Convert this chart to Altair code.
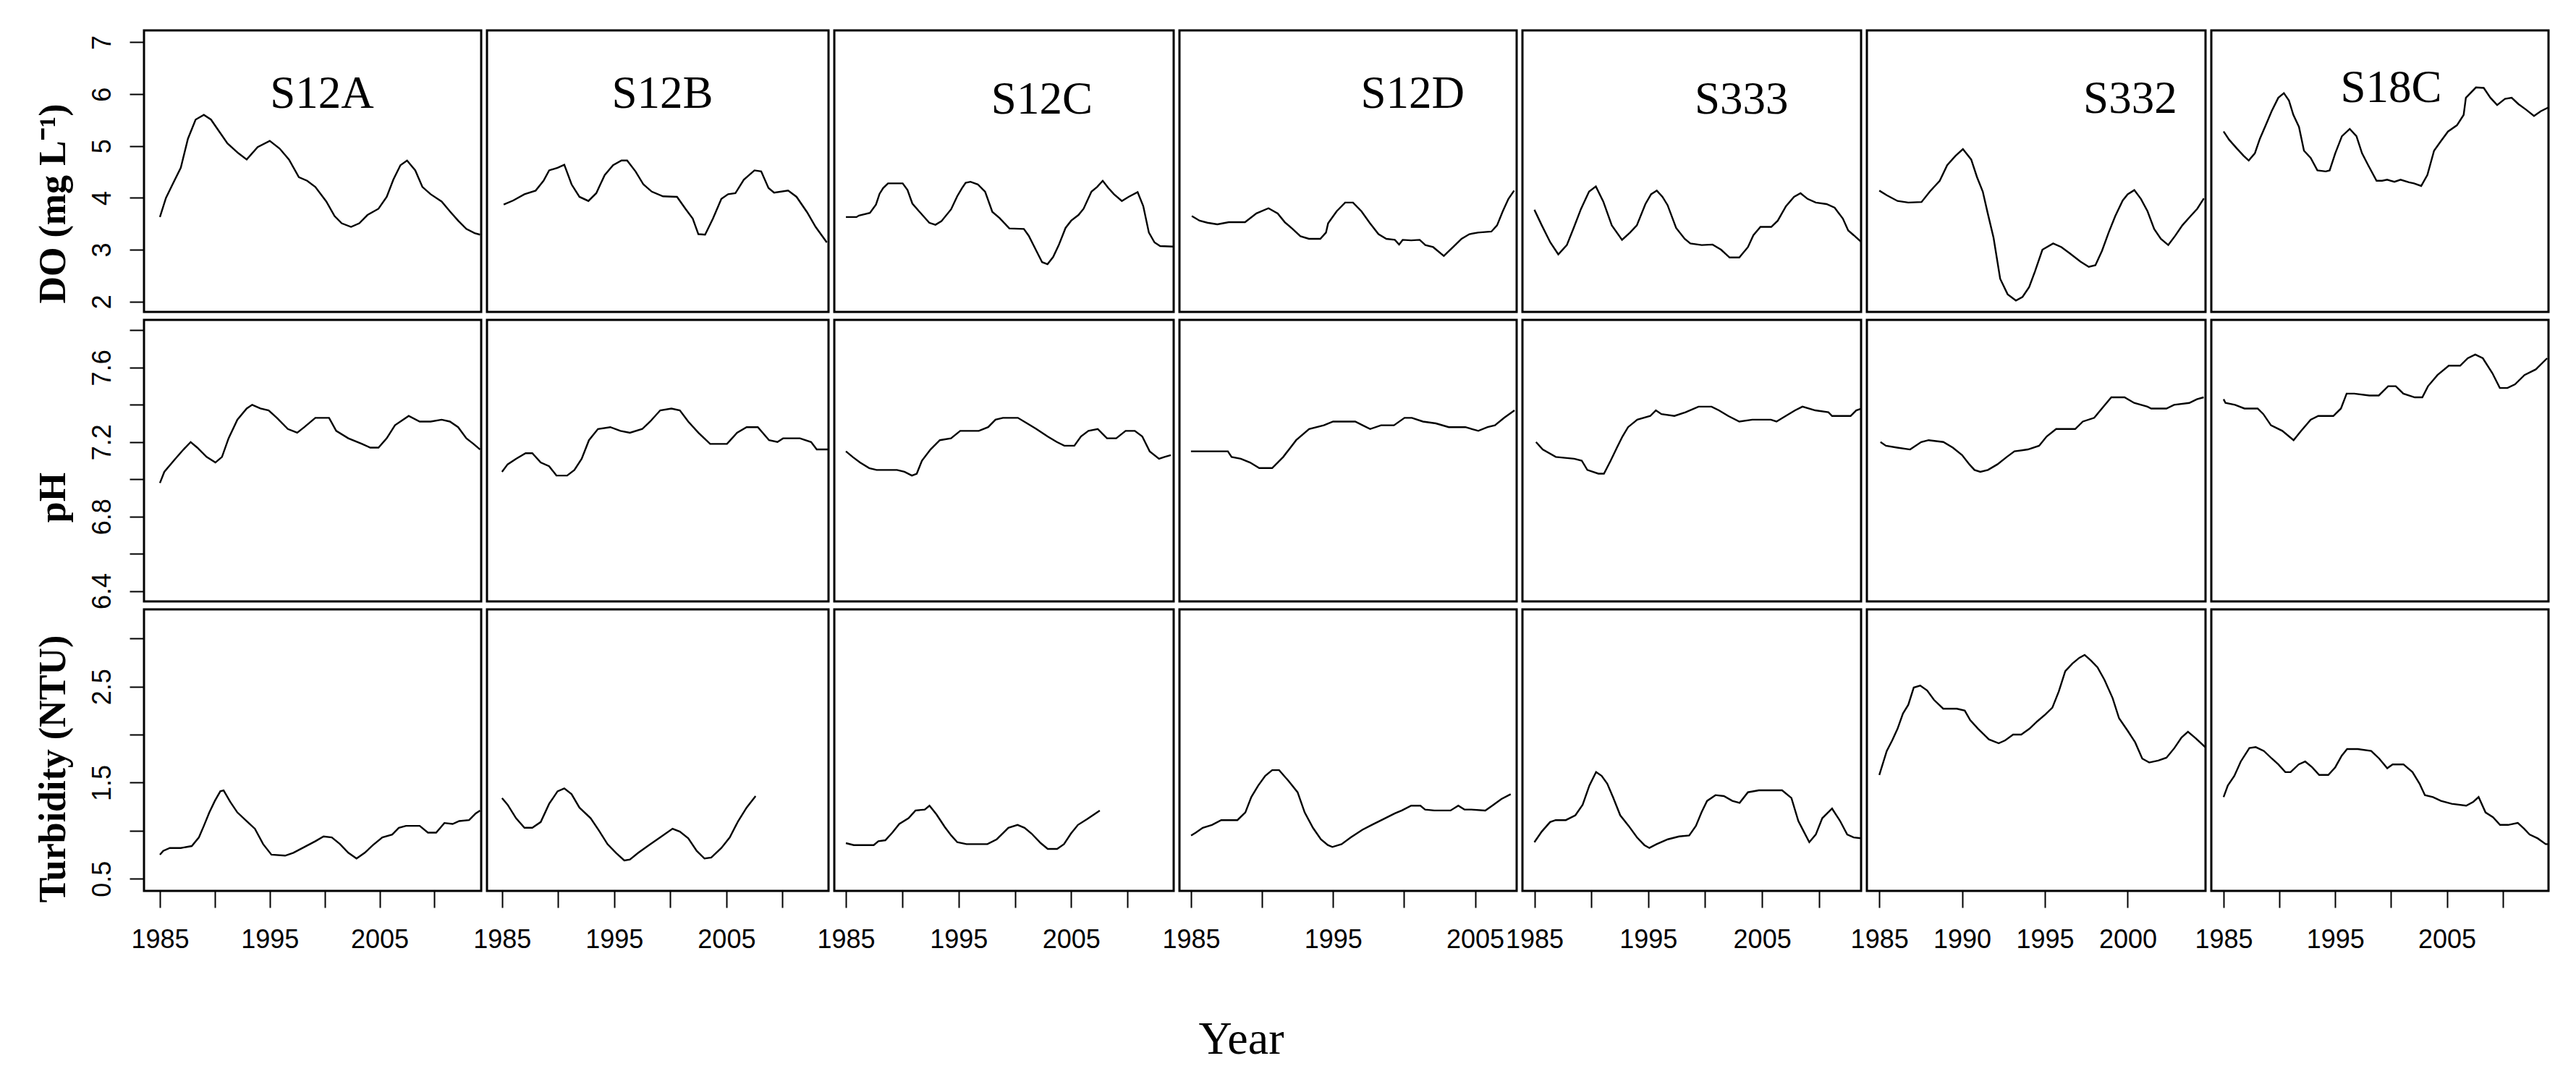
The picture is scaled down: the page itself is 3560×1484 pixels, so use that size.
import altair as alt
import pandas as pd

STATIONS = ["S12A", "S12B", "S12C", "S12D", "S333", "S332", "S18C"]
PARAMS = ["DO", "pH", "Turbidity"]

# ---------------- DO (mg/L) ----------------
S12A_DO = [(1985.0,3.63),(1985.55,4.0),(1986.15,4.26),(1986.9,4.58),(1987.55,5.14),(1988.25,5.51),(1989.0,5.6),(1989.65,5.51),(1990.4,5.28),(1991.15,5.05),(1992.15,4.86),(1992.9,4.74),(1993.9,4.98),(1995.0,5.10),(1995.9,4.95),(1996.75,4.74),(1997.65,4.40),(1998.4,4.33),(1999.15,4.21),(2000.15,3.93),(2000.9,3.65),(2001.55,3.51),(2002.4,3.44),(2003.15,3.51),(2003.9,3.67),(2004.9,3.79),(2005.65,4.02),(2006.25,4.35),(2006.9,4.63),(2007.5,4.72),(2008.25,4.53),(2008.9,4.21),(2009.65,4.07),(2010.65,3.93),(2011.4,3.74),(2012.15,3.56),(2012.9,3.40),(2013.65,3.32),(2014.15,3.29)]
S12B_DO = [(1985.15,3.87),(1986.0,3.95),(1987.0,4.07),(1988.0,4.14),(1988.7,4.33),(1989.2,4.53),(1989.95,4.58),(1990.55,4.64),(1991.2,4.26),(1991.9,4.02),(1992.7,3.94),(1993.4,4.09),(1994.15,4.44),(1994.9,4.63),(1995.65,4.72),(1996.15,4.72),(1996.9,4.51),(1997.6,4.26),(1998.35,4.12),(1999.35,4.03),(2000.6,4.02),(2001.35,3.79),(2002.0,3.60),(2002.5,3.30),(2003.1,3.29),(2003.8,3.60),(2004.55,3.98),(2005.15,4.07),(2005.8,4.09),(2006.55,4.35),(2007.5,4.53),(2008.1,4.51),(2008.75,4.19),(2009.25,4.10),(2010.5,4.14),(2011.25,4.02),(2012.2,3.72),(2012.95,3.44),(2013.95,3.14)]
S12C_DO = [(1985.0,3.63),(1985.94,3.63),(1986.16,3.66),(1987.13,3.71),(1987.67,3.87),(1987.99,4.08),(1988.31,4.19),(1988.74,4.28),(1990.04,4.28),(1990.47,4.15),(1990.9,3.89),(1991.54,3.73),(1992.4,3.52),(1992.95,3.48),(1993.48,3.55),(1994.34,3.78),(1994.88,4.03),(1995.31,4.19),(1995.63,4.29),(1996.06,4.31),(1996.71,4.26),(1997.36,4.12),(1998.0,3.73),(1998.65,3.61),(1999.51,3.41),(2000.8,3.40),(2001.23,3.27),(2001.88,2.99),(2002.42,2.76),(2002.9,2.72),(2003.4,2.86),(2003.9,3.09),(2004.5,3.42),(2005.0,3.56),(2005.65,3.67),(2006.1,3.79),(2006.8,4.12),(2007.3,4.21),(2007.8,4.33),(2008.3,4.19),(2008.8,4.07),(2009.5,3.94),(2010.1,4.02),(2010.9,4.11),(2011.4,3.84),(2011.9,3.33),(2012.4,3.14),(2012.9,3.07),(2014.1,3.06)]
S12D_DO = [(1985.05,3.65),(1985.6,3.56),(1986.15,3.52),(1986.85,3.49),(1987.65,3.53),(1988.8,3.53),(1989.6,3.70),(1990.45,3.80),(1991.1,3.70),(1991.6,3.53),(1992.15,3.40),(1992.7,3.26),(1993.3,3.21),(1994.1,3.21),(1994.5,3.33),(1994.65,3.51),(1995.25,3.74),(1995.85,3.91),(1996.4,3.91),(1997.0,3.74),(1997.6,3.51),(1998.2,3.30),(1998.75,3.21),(1999.35,3.19),(1999.65,3.10),(1999.9,3.19),(2000.5,3.18),(2001.1,3.19),(2001.5,3.09),(2002.05,3.05),(2002.8,2.88),(2003.45,3.05),(2004.05,3.21),(2004.6,3.30),(2005.2,3.33),(2006.15,3.35),(2006.55,3.47),(2006.95,3.74),(2007.35,3.98),(2007.75,4.14)]
S333_DO = [(1985.0,3.77),(1985.65,3.47),(1986.4,3.14),(1987.1,2.91),(1987.85,3.09),(1988.45,3.42),(1989.1,3.79),(1989.8,4.12),(1990.4,4.22),(1991.05,3.93),(1991.8,3.47),(1992.7,3.19),(1993.4,3.33),(1994.0,3.47),(1994.75,3.88),(1995.25,4.07),(1995.75,4.14),(1996.25,4.02),(1996.7,3.86),(1997.45,3.42),(1998.2,3.21),(1998.7,3.12),(1999.7,3.09),(2000.65,3.10),(2001.4,3.00),(2002.15,2.85),(2003.0,2.85),(2003.76,3.05),(2004.24,3.28),(2004.86,3.44),(2005.81,3.44),(2006.38,3.56),(2007.1,3.84),(2007.81,4.02),(2008.38,4.09),(2009.0,3.98),(2009.72,3.91),(2010.67,3.88),(2011.38,3.81),(2012.1,3.60),(2012.57,3.37),(2013.05,3.28),(2013.76,3.14)]
S332_DO = [(1985.0,4.14),(1985.45,4.05),(1986.1,3.94),(1986.75,3.91),(1987.55,3.92),(1988.05,4.12),(1988.65,4.33),(1989.1,4.63),(1989.6,4.81),(1990.05,4.94),(1990.55,4.74),(1990.9,4.40),(1991.25,4.12),(1991.55,3.70),(1991.9,3.23),(1992.3,2.44),(1992.75,2.14),(1993.25,2.02),(1993.65,2.09),(1994.05,2.28),(1994.4,2.58),(1994.85,3.00),(1995.5,3.12),(1996.0,3.05),(1996.5,2.93),(1997.15,2.77),(1997.65,2.67),(1998.05,2.70),(1998.45,2.98),(1998.85,3.33),(1999.25,3.65),(1999.7,3.95),(2000.0,4.07),(2000.4,4.15),(2000.8,3.98),(2001.2,3.74),(2001.6,3.40),(2002.0,3.21),(2002.45,3.09),(2002.85,3.26),(2003.3,3.47),(2003.8,3.65),(2004.2,3.79),(2004.6,3.99)]
S18C_DO = [(1985.0,5.28),(1985.5,5.12),(1986.2,4.95),(1986.8,4.81),(1987.25,4.72),(1987.8,4.86),(1988.25,5.14),(1988.85,5.44),(1989.3,5.67),(1989.9,5.93),(1990.4,6.02),(1990.85,5.88),(1991.25,5.60),(1991.75,5.37),(1992.2,4.91),(1992.8,4.77),(1993.4,4.53),(1994.15,4.51),(1994.5,4.53),(1995.0,4.86),(1995.6,5.19),(1996.3,5.33),(1996.9,5.19),(1997.4,4.86),(1997.95,4.63),(1998.7,4.33),(1999.2,4.33),(1999.65,4.35),(2000.3,4.31),(2000.85,4.35),(2001.6,4.30),(2002.05,4.28),(2002.7,4.23),(2003.25,4.44),(2003.85,4.91),(2004.45,5.09),(2005.1,5.28),(2005.9,5.40),(2006.5,5.60),(2006.7,5.93),(2007.6,6.13),(2008.3,6.12),(2008.9,5.93),(2009.5,5.79),(2010.2,5.91),(2010.8,5.93),(2011.4,5.81),(2012.1,5.70),(2012.8,5.58),(2013.4,5.67),(2014.05,5.74)]

# ---------------- pH ----------------
S12A_PH = [(1985.0,6.98),(1985.4,7.04),(1986.4,7.11),(1987.15,7.16),(1987.8,7.20),(1988.4,7.17),(1989.25,7.12),(1990.05,7.09),(1990.65,7.12),(1991.25,7.22),(1992.05,7.32),(1992.9,7.38),(1993.4,7.40),(1994.15,7.38),(1994.9,7.37),(1995.65,7.33),(1996.65,7.27),(1997.5,7.25),(1998.15,7.28),(1999.15,7.33),(2000.4,7.33),(2001.05,7.26),(2002.15,7.22),(2003.4,7.19),(2004.15,7.17),(2004.9,7.17),(2005.65,7.22),(2006.4,7.29),(2007.65,7.34),(2008.65,7.31),(2009.65,7.31),(2010.65,7.32),(2011.4,7.31),(2012.15,7.28),(2012.9,7.22),(2013.55,7.19),(2014.15,7.16)]
S12B_PH = [(1985.0,7.04),(1985.5,7.08),(1986.25,7.11),(1987.1,7.14),(1987.7,7.14),(1988.45,7.09),(1989.2,7.07),(1989.85,7.02),(1990.8,7.02),(1991.45,7.05),(1992.1,7.11),(1992.75,7.21),(1993.55,7.27),(1994.65,7.28),(1995.55,7.26),(1996.4,7.25),(1997.5,7.27),(1998.2,7.31),(1999.1,7.37),(2000.1,7.38),(2000.85,7.37),(2001.6,7.31),(2002.5,7.25),(2003.55,7.19),(2005.05,7.19),(2005.95,7.25),(2006.8,7.28),(2007.8,7.28),(2008.8,7.21),(2009.55,7.20),(2010.05,7.22),(2011.55,7.22),(2012.55,7.20),(2013.05,7.16),(2014.05,7.16)]
S12C_PH = [(1985.0,7.15),(1985.6,7.12),(1986.25,7.09),(1987.07,7.06),(1987.73,7.05),(1989.54,7.05),(1990.2,7.04),(1990.86,7.02),(1991.29,7.03),(1991.75,7.10),(1992.51,7.16),(1993.34,7.21),(1994.33,7.22),(1995.15,7.26),(1995.98,7.26),(1996.8,7.26),(1997.63,7.28),(1998.28,7.32),(1998.94,7.33),(2000.27,7.33),(2001.09,7.30),(2001.91,7.27),(2002.9,7.23),(2003.73,7.20),(2004.39,7.18),(2005.28,7.18),(2005.87,7.23),(2006.53,7.26),(2007.36,7.27),(2008.18,7.22),(2009.0,7.22),(2009.83,7.26),(2010.65,7.26),(2011.31,7.23),(2011.97,7.15),(2012.8,7.11),(2013.29,7.12),(2013.85,7.13)]
S12D_PH = [(1984.99,7.15),(1985.82,7.15),(1987.59,7.15),(1987.85,7.12),(1988.5,7.11),(1989.15,7.09),(1989.8,7.06),(1990.71,7.06),(1991.49,7.12),(1992.4,7.21),(1993.31,7.27),(1994.35,7.29),(1995.0,7.31),(1996.56,7.31),(1997.08,7.29),(1997.61,7.27),(1998.38,7.29),(1999.29,7.29),(2000.03,7.33),(2000.55,7.33),(2001.33,7.31),(2002.24,7.30),(2003.15,7.28),(2004.32,7.28),(2005.23,7.26),(2005.88,7.28),(2006.4,7.29),(2007.05,7.33),(2007.78,7.37)]
S333_PH = [(1985.14,7.20),(1985.73,7.16),(1986.88,7.12),(1988.5,7.11),(1989.16,7.10),(1989.65,7.05),(1990.62,7.03),(1991.11,7.03),(1991.7,7.10),(1992.25,7.17),(1992.74,7.23),(1993.23,7.28),(1994.04,7.32),(1995.18,7.34),(1995.67,7.37),(1996.16,7.35),(1997.3,7.34),(1998.28,7.36),(1999.42,7.39),(2000.56,7.39),(2001.21,7.37),(2002.03,7.34),(2003.0,7.31),(2004.15,7.32),(2005.77,7.32),(2006.27,7.31),(2007.08,7.34),(2007.9,7.37),(2008.55,7.39),(2009.68,7.37),(2010.83,7.36),(2011.15,7.34),(2012.78,7.34),(2013.27,7.37),(2013.76,7.38)]
S332_PH = [(1985.07,7.20),(1985.4,7.18),(1986.08,7.17),(1986.86,7.16),(1987.53,7.20),(1987.98,7.21),(1988.87,7.20),(1989.44,7.17),(1990.0,7.13),(1990.44,7.08),(1990.75,7.05),(1991.1,7.04),(1991.56,7.05),(1992.13,7.08),(1992.7,7.12),(1993.16,7.15),(1993.97,7.16),(1994.65,7.18),(1995.11,7.23),(1995.68,7.27),(1996.83,7.27),(1997.29,7.31),(1997.98,7.33),(1998.44,7.38),(1999.01,7.44),(1999.81,7.44),(2000.39,7.41),(2001.19,7.39),(2001.42,7.38),(2002.34,7.38),(2002.8,7.40),(2003.72,7.41),(2004.18,7.43),(2004.59,7.44)]
S18C_PH = [(1985.0,7.43),(1985.17,7.41),(1986.02,7.40),(1986.87,7.38),(1988.05,7.38),(1988.56,7.35),(1989.24,7.29),(1990.26,7.26),(1991.27,7.21),(1991.95,7.26),(1992.8,7.32),(1993.48,7.34),(1994.83,7.34),(1995.51,7.38),(1996.02,7.46),(1996.7,7.46),(1998.05,7.45),(1998.9,7.45),(1999.74,7.50),(2000.42,7.50),(2001.1,7.46),(2002.12,7.44),(2002.8,7.44),(2003.31,7.50),(2004.16,7.56),(2005.17,7.61),(2006.19,7.61),(2006.87,7.65),(2007.54,7.67),(2008.22,7.65),(2009.07,7.57),(2009.74,7.49),(2010.42,7.49),(2011.1,7.51),(2011.95,7.56),(2012.96,7.59),(2013.98,7.65)]

# ---------------- Turbidity (NTU) ----------------
S12A_TU = [(1985.0,0.75),(1985.3,0.79),(1985.9,0.82),(1986.9,0.82),(1987.9,0.84),(1988.55,0.93),(1989.0,1.05),(1989.5,1.19),(1990.0,1.31),(1990.5,1.41),(1990.8,1.42),(1991.4,1.30),(1992.05,1.19),(1992.9,1.10),(1993.65,1.02),(1994.4,0.86),(1995.15,0.75),(1996.4,0.74),(1997.15,0.77),(1998.15,0.83),(1999.15,0.89),(1999.9,0.94),(2000.65,0.93),(2001.4,0.86),(2002.15,0.77),(2002.9,0.71),(2003.65,0.77),(2004.4,0.85),(2005.25,0.93),(2006.15,0.96),(2006.75,1.03),(2007.4,1.05),(2008.65,1.05),(2009.4,0.98),(2010.15,0.98),(2010.9,1.08),(2011.65,1.07),(2012.25,1.10),(2013.15,1.11),(2013.75,1.18),(2014.15,1.21)]
S12B_TU = [(1985.0,1.34),(1985.5,1.27),(1986.25,1.13),(1987.0,1.03),(1987.7,1.03),(1988.45,1.09),(1989.2,1.28),(1989.95,1.41),(1990.55,1.44),(1991.2,1.38),(1991.9,1.24),(1992.9,1.13),(1993.65,1.00),(1994.4,0.86),(1995.15,0.77),(1995.9,0.69),(1996.4,0.70),(1997.15,0.77),(1998.1,0.85),(1999.1,0.93),(2000.2,1.02),(2000.85,0.99),(2001.6,0.92),(2002.35,0.79),(2003.05,0.71),(2003.65,0.72),(2004.55,0.82),(2005.3,0.93),(2006.05,1.10),(2006.8,1.24),(2007.6,1.36)]
S12C_TU = [(1985.0,0.87),(1985.7,0.85),(1987.47,0.85),(1987.88,0.89),(1988.5,0.90),(1989.12,0.98),(1989.74,1.07),(1990.56,1.13),(1991.18,1.21),(1992.0,1.22),(1992.42,1.26),(1993.04,1.17),(1993.77,1.04),(1994.35,0.95),(1994.89,0.88),(1995.71,0.86),(1997.56,0.86),(1998.39,0.91),(1999.0,0.98),(1999.42,1.03),(2000.24,1.06),(2000.86,1.03),(2001.48,0.97),(2002.3,0.87),(2002.92,0.81),(2003.75,0.81),(2004.36,0.86),(2004.98,0.97),(2005.6,1.06),(2006.42,1.12),(2007.04,1.17),(2007.54,1.21)]
S12D_TU = [(1985.0,0.95),(1985.33,0.98),(1985.82,1.03),(1986.47,1.06),(1987.12,1.11),(1988.26,1.11),(1988.82,1.19),(1989.24,1.35),(1989.73,1.47),(1990.22,1.57),(1990.71,1.63),(1991.2,1.63),(1991.85,1.52),(1992.5,1.40),(1993.0,1.19),(1993.58,1.03),(1994.14,0.91),(1994.63,0.85),(1994.95,0.83),(1995.6,0.86),(1996.25,0.93),(1997.07,1.01),(1997.72,1.06),(1998.54,1.12),(1999.35,1.18),(1999.84,1.21),(2000.5,1.26),(2001.15,1.26),(2001.48,1.22),(2002.13,1.21),(2003.27,1.21),(2003.82,1.26),(2004.25,1.22),(2004.74,1.22),(2005.72,1.21),(2006.21,1.26),(2006.86,1.33),(2007.51,1.38)]
S333_TU = [(1985.0,0.88),(1985.64,0.99),(1986.38,1.09),(1986.87,1.11),(1987.76,1.11),(1988.6,1.16),(1989.24,1.27),(1989.83,1.47),(1990.42,1.61),(1990.91,1.57),(1991.4,1.49),(1991.9,1.35),(1992.54,1.16),(1993.28,1.05),(1994.01,0.93),(1994.66,0.85),(1995.1,0.82),(1995.74,0.86),(1996.72,0.91),(1997.71,0.94),(1998.6,0.95),(1999.19,1.05),(1999.68,1.19),(2000.17,1.31),(2000.91,1.37),(2001.65,1.36),(2002.39,1.31),(2003.03,1.29),(2003.76,1.40),(2004.72,1.42),(2006.76,1.42),(2007.58,1.34),(2008.19,1.10),(2008.67,0.99),(2009.15,0.88),(2009.72,0.96),(2010.29,1.13),(2011.15,1.23),(2011.86,1.10),(2012.48,0.96),(2013.05,0.93),(2013.76,0.92),(2014.1,0.88)]
S332_TU = [(1985.0,1.58),(1985.2,1.69),(1985.45,1.83),(1985.78,1.94),(1986.1,2.06),(1986.43,2.22),(1986.75,2.31),(1987.08,2.49),(1987.47,2.51),(1987.89,2.46),(1988.31,2.36),(1988.86,2.27),(1989.68,2.27),(1990.16,2.25),(1990.49,2.15),(1990.97,2.06),(1991.62,1.95),(1992.21,1.91),(1992.6,1.94),(1993.08,2.00),(1993.57,2.00),(1994.06,2.06),(1994.55,2.14),(1995.03,2.21),(1995.45,2.28),(1995.84,2.45),(1996.23,2.66),(1996.66,2.74),(1997.08,2.80),(1997.4,2.83),(1997.79,2.77),(1998.18,2.70),(1998.6,2.57),(1999.09,2.38),(1999.48,2.17),(2000.0,2.04),(2000.45,1.92),(2000.88,1.75),(2001.3,1.71),(2001.85,1.73),(2002.34,1.76),(2002.82,1.86),(2003.25,1.97),(2003.64,2.03),(2004.12,1.96),(2004.68,1.87)]
S18C_TU = [(1985.0,1.35),(1985.38,1.47),(1985.96,1.57),(1986.54,1.72),(1987.31,1.86),(1987.88,1.87),(1988.61,1.83),(1989.33,1.75),(1989.9,1.69),(1990.53,1.61),(1991.0,1.61),(1991.73,1.69),(1992.31,1.72),(1992.93,1.66),(1993.56,1.58),(1994.38,1.58),(1995.0,1.66),(1995.58,1.78),(1996.06,1.85),(1997.02,1.85),(1998.22,1.83),(1998.94,1.75),(1999.66,1.65),(2000.14,1.69),(2001.11,1.69),(2001.92,1.61),(2002.55,1.49),(2003.03,1.37),(2003.75,1.35),(2004.47,1.31),(2005.43,1.28),(2006.73,1.26),(2007.36,1.30),(2007.84,1.35),(2008.46,1.19),(2009.13,1.14),(2009.76,1.06),(2010.48,1.06),(2011.35,1.08),(2011.92,1.02),(2012.4,0.96),(2013.13,0.92),(2013.85,0.86),(2014.18,0.86)]

# station label anchor points (year, DO value)
LABEL_YEAR = [1999.75, 1999.3, 2002.4, 2000.6, 2003.2, 2000.15, 2000.0]
LABEL_DO = [5.74, 5.74, 5.62, 5.73, 5.63, 5.645, 5.85]

# year tick marks per station panel
X_TICKS = [
    [1985, 1990, 1995, 2000, 2005, 2010],
    [1985, 1990, 1995, 2000, 2005, 2010],
    [1985, 1990, 1995, 2000, 2005, 2010],
    [1985, 1990, 1995, 2000, 2005],
    [1985, 1990, 1995, 2000, 2005, 2010],
    [1985, 1990, 1995, 2000],
    [1985, 1990, 1995, 2000, 2005, 2010],
]
DO_TICKS = [2, 3, 4, 5, 6, 7]
PH_TICKS = [6.4, 6.6, 6.8, 7.0, 7.2, 7.4, 7.6, 7.8]
TU_TICKS = [0.5, 1.0, 1.5, 2.0, 2.5, 3.0]

SERIES = {
    "DO": [S12A_DO, S12B_DO, S12C_DO, S12D_DO, S333_DO, S332_DO, S18C_DO],
    "pH": [S12A_PH, S12B_PH, S12C_PH, S12D_PH, S333_PH, S332_PH, S18C_PH],
    "Turbidity": [S12A_TU, S12B_TU, S12C_TU, S12D_TU, S333_TU, S332_TU, S18C_TU],
}

# ---------------- layout / scale settings ----------------
X_DOMAINS = [
    [1983.55, 2014.25], [1983.66, 2014.1], [1983.97, 2014.1], [1984.18, 2007.93],
    [1983.95, 2013.7], [1984.25, 2004.7], [1983.9, 2014.1],
]
Y_DOMAINS = {"DO": [1.8, 7.23], "pH": [6.344, 7.856], "Turbidity": [0.373, 3.304]}
WIDTHS = [466, 472, 469, 466, 468, 468, 466]
H = 389

SERIF = "Liberation Serif"
SANS = "Liberation Sans"
LABEL_STYLE = dict(labelColor="black", labelFont=SANS, labelFontSize=36,
                   labelOverlap=False, labelFlush=False, domain=False, grid=False,
                   ticks=True, tickColor="black", tickWidth=2)


def y_axis(param):
    common = dict(
        tickSize=20, labelAngle=270, labelAlign="center", labelBaseline="alphabetic",
        labelPadding=27, titleAngle=270, titleX=-110, titleAlign="center",
        titleBaseline="alphabetic", titleFont=SERIF, titleFontWeight="bold",
        titleFontSize=52, titleColor="black", **LABEL_STYLE,
    )
    if param == "DO":
        return alt.Axis(values=DO_TICKS, format="d", title="DO (mg L\u207b\u00b9)",
                        titleY=239, **common)
    if param == "pH":
        return alt.Axis(values=PH_TICKS, format=".1f", title="pH", titleY=245,
                        labelExpr="round(datum.value*10) % 4 == 0 ? datum.label : ''",
                        **common)
    return alt.Axis(values=TU_TICKS, format=".1f", title="Turbidity (NTU)", titleY=220,
                    labelExpr="round(datum.value*10) % 10 == 5 ? datum.label : ''",
                    **common)


def x_axis(ci):
    expr = "datum.label" if ci == 5 else "datum.value % 10 == 5 ? datum.label : ''"
    kw = dict(values=X_TICKS[ci], format="d", labelExpr=expr, tickSize=23,
              labelPadding=55, labelBaseline="alphabetic", labelAngle=0,
              labelAlign="center", **LABEL_STYLE)
    if ci == 3:
        return alt.Axis(title="Year", titleX=85, titleY=224, titleAlign="center",
                        titleBaseline="alphabetic", titleFont=SERIF, titleColor="black",
                        titleFontWeight="normal", titleFontSize=64, **kw)
    return alt.Axis(title=None, **kw)


def panel(ci, ri):
    param = PARAMS[ri]
    pts = SERIES[param][ci]
    df = pd.DataFrame(pts, columns=["year", "value"])
    xs = alt.Scale(domain=X_DOMAINS[ci], nice=False, zero=False)
    ys = alt.Scale(domain=Y_DOMAINS[param], nice=False, zero=False)
    xa = x_axis(ci) if ri == 2 else None
    ya = y_axis(param) if ci == 0 else None
    line = alt.Chart(df).mark_line(color="black", strokeWidth=2.4, clip=True).encode(
        x=alt.X("year:Q", scale=xs, axis=xa),
        y=alt.Y("value:Q", scale=ys, axis=ya),
    )
    if ri == 0:
        lab = pd.DataFrame({"year": [LABEL_YEAR[ci]], "value": [LABEL_DO[ci]],
                            "name": [STATIONS[ci]]})
        txt = alt.Chart(lab).mark_text(font=SERIF, fontSize=63, align="center",
                                       baseline="alphabetic", color="black").encode(
            x=alt.X("year:Q", scale=xs, axis=xa),
            y=alt.Y("value:Q", scale=ys, axis=ya),
            text="name:N",
        )
        ch = alt.layer(line, txt)
    else:
        ch = line
    return ch.properties(width=WIDTHS[ci], height=H)


panels = [panel(ci, ri) for ri in range(3) for ci in range(7)]

chart = alt.concat(
    *panels, columns=7, spacing={"row": 11, "column": 8}, bounds="flush", align="each"
).properties(
    padding={"left": 37, "top": 32, "right": 10, "bottom": 10}
).configure(
    background="white"
).configure_view(
    stroke="black", strokeWidth=3
)

chart.save("out.html", embed_options={"renderer": "svg", "actions": False})
